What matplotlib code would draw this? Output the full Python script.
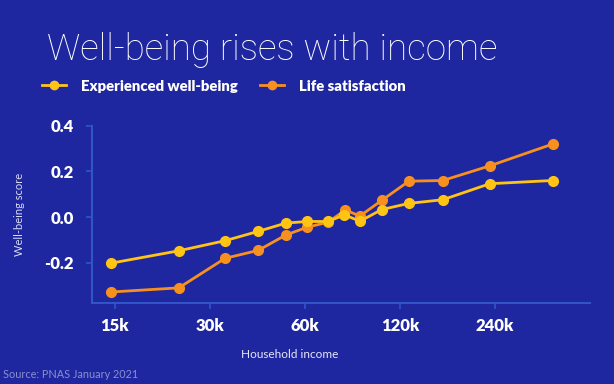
import matplotlib
matplotlib.use("Agg")
import matplotlib.pyplot as plt
from matplotlib.lines import Line2D

BG = "#1f27a0"
AXIS = "#2f55c8"
YELLOW = "#ffc414"
ORANGE = "#f7901e"

# household income (thousands of $)
income_ewb = [14.6, 23.9, 33.5, 42.7, 52.2, 61.0, 71.1, 80.0, 89.6, 105.0, 128.0, 164.0, 231.0, 365.0]
ewb = [-0.201, -0.147, -0.103, -0.062, -0.026, -0.019, -0.019, 0.010, -0.018, 0.033, 0.060, 0.076, 0.146, 0.160]
income_ls = [14.6, 23.9, 33.5, 42.7, 52.2, 61.0, 71.1, 80.5, 89.6, 105.0, 128.0, 164.0, 231.0, 365.0]
life_sat = [-0.327, -0.309, -0.180, -0.145, -0.078, -0.044, -0.022, 0.031, 0.005, 0.073, 0.157, 0.160, 0.224, 0.319]

x_ticks = [15, 30, 60, 120, 240]
x_labels = ["15k", "30k", "60k", "120k", "240k"]
y_ticks = [-0.2, 0.0, 0.2, 0.4]
y_labels = ["-0.2", "0.0", "0.2", "0.4"]

plt.rcParams["font.family"] = ["Lato", "DejaVu Sans"]

fig = plt.figure(figsize=(6.14, 3.84), dpi=100, facecolor=BG)
ax = fig.add_axes([0.150, 0.211, 0.811, 0.462], facecolor=BG)

ax.plot(income_ls, life_sat, color=ORANGE, lw=2, marker="o", ms=7, zorder=3)
ax.plot(income_ewb, ewb, color=YELLOW, lw=2, marker="o", ms=7, zorder=4)

ax.set_xscale("log", base=2)
ax.set_xlim(12.7, 480)
ax.set_ylim(-0.375, 0.4)
ax.set_xticks(x_ticks)
ax.set_xticklabels(x_labels)
ax.minorticks_off()
ax.set_yticks(y_ticks)
ax.set_yticklabels(y_labels)

for s in ("top", "right"):
    ax.spines[s].set_visible(False)
for s in ("left", "bottom"):
    ax.spines[s].set_color(AXIS)
    ax.spines[s].set_linewidth(1.5)
ax.tick_params(colors=AXIS, length=4, width=1.2)
ax.tick_params(axis="both", labelcolor="white", labelsize=12)
ax.tick_params(axis="x", pad=7)
ax.tick_params(axis="y", pad=9)
for lab in ax.get_xticklabels() + ax.get_yticklabels():
    lab.set_fontweight("heavy")

ax.set_ylabel("Well-being score", color="#d8dcf5", fontsize=8, labelpad=14)
fig.text(290 / 614, 1 - 354 / 384, "Household income", color="#e6e8f8",
         fontsize=8.5, ha="center", va="center")

fig.text(0.076, 0.87, "Well-being rises with income", color="white",
         fontsize=26.5, fontweight="light", family=["Roboto", "DejaVu Sans"],
         ha="left", va="center")

handles = [
    Line2D([], [], color=YELLOW, lw=2, marker="o", ms=6),
    Line2D([], [], color=ORANGE, lw=2, marker="o", ms=6),
]
leg = fig.legend(handles, ["Experienced well-being", "Life satisfaction"],
                 loc="center left", bbox_to_anchor=(0.047, 0.776), ncol=2,
                 frameon=False, handlelength=1.6, handletextpad=1.0,
                 columnspacing=1.5, prop={"weight": "heavy", "size": 10.7})
for t in leg.get_texts():
    t.set_color("white")

fig.text(0.005, 0.025, "Source: PNAS January 2021", color="#8990cf",
         fontsize=7.8, ha="left", va="center")

fig.savefig("out.png", dpi=100, facecolor=BG)
